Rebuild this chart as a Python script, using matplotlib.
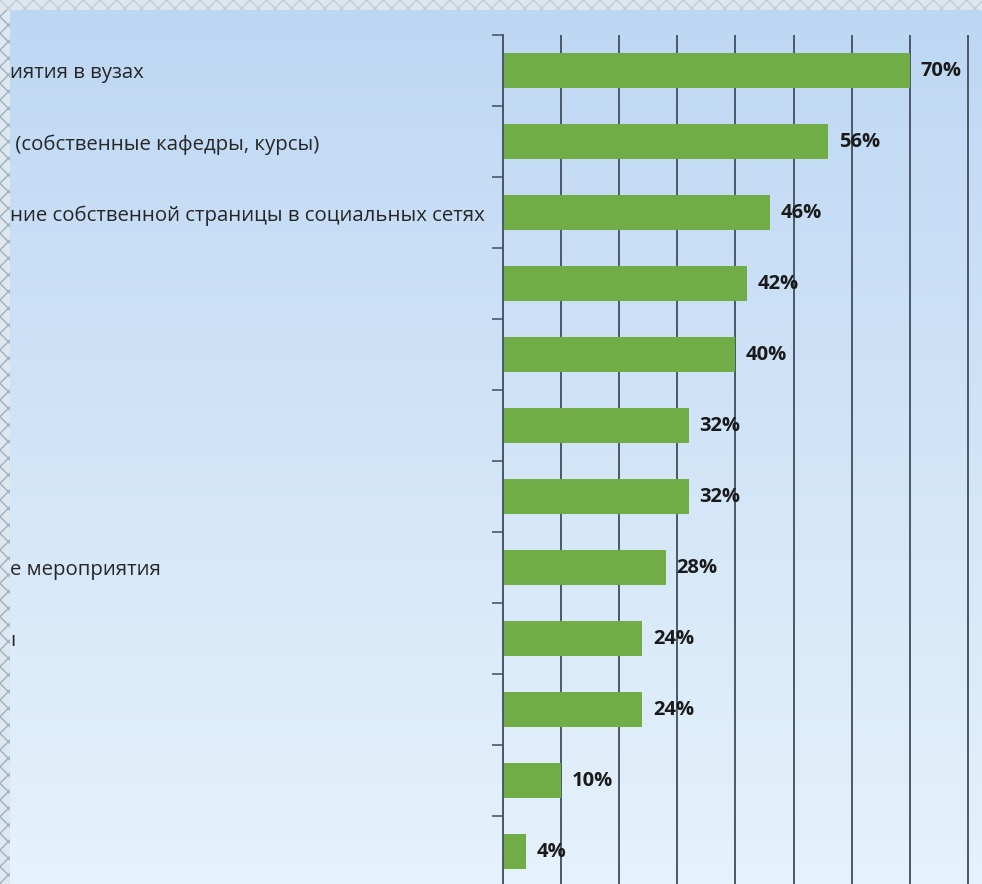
# -*- coding:utf-8 -*-
import numpy as np
import matplotlib
matplotlib.use('Agg')
import matplotlib.pyplot as plt
from matplotlib.patches import Rectangle
from matplotlib.transforms import blended_transform_factory

# видимые части подписей категорий (слева обрезаны)
labels = ['иятия в вузах',
          ' (собственные кафедры, курсы)',
          'ние собственной страницы в социальных сетях',
          '', '', '', '',
          'е мероприятия',
          'ı',
          '', '', '']
values = [70, 56, 46, 42, 40, 32, 32, 28, 24, 24, 10, 4]
value_labels = ['70%', '56%', '46%', '42%', '40%', '32%', '32%', '28%', '24%', '24%', '10%', '4%']

plt.rcParams['font.family'] = ['Open Sans', 'DejaVu Sans']

W, H = 982, 884
fig = plt.figure(figsize=(W / 100, H / 100), dpi=100)

# фон - вертикальный градиент
bg = fig.add_axes([0, 0, 1, 1], zorder=-10)
top = np.array([189, 215, 243]) / 255
bot = np.array([230, 242, 252]) / 255
t = np.linspace(0, 1, 256)[:, None]
grad = top[None, :] * (1 - t) + bot[None, :] * t
bg.imshow(grad[:, None, :], aspect='auto', extent=[0, 1, 0, 1])
bg.axis('off')

# основная диаграмма
left, right = 503, 1026
ytop, ybot = 35, 887
ax = fig.add_axes([left / W, 1 - ybot / H, (right - left) / W, (ybot - ytop) / H])
ax.patch.set_alpha(0)

n = len(values)
y = np.arange(n)
ax.barh(y, values, height=0.5, color='#70ad47', zorder=2)
ax.set_ylim(n - 0.5, -0.5)
ax.set_xlim(0, 90)

ax.set_xticks(np.arange(0, 91, 10))
ax.xaxis.grid(True, color='#4b5868', linewidth=1.4, zorder=1)
ax.set_xticklabels([])
ax.tick_params(axis='x', length=0)

ax.set_yticks(np.arange(-0.5, n, 1))
ax.set_yticklabels([])
ax.tick_params(axis='y', length=8, width=1.2, color='#4b5868', direction='out')

for s in ['top', 'right', 'bottom']:
    ax.spines[s].set_visible(False)
ax.spines['left'].set_color('#4b5868')
ax.spines['left'].set_linewidth(1.4)

for i, v in enumerate(values):
    ax.text(v + 1.8, i, value_labels[i], va='center', ha='left',
            fontsize=14.5, fontweight='bold', color='#1a1a1a', zorder=3)

# подписи категорий, обрезанные слева
tr = blended_transform_factory(fig.transFigure, ax.transData)
for i, lab in enumerate(labels):
    if lab:
        ax.text(10 / W, i + 0.04, lab, transform=tr, ha='left', va='center',
                fontsize=14.7, color='#262626', clip_on=False)

# декоративные полосы с узором слева и сверху
strip = '#dfe7ee'
fig.patches.append(Rectangle((0, 0), 10 / W, 1, transform=fig.transFigure,
                             facecolor=strip, edgecolor='#9fb0c0', hatch='xx',
                             linewidth=0, zorder=20))
fig.patches.append(Rectangle((0, 1 - 10 / H), 1, 10 / H, transform=fig.transFigure,
                             facecolor=strip, edgecolor='#c3ccd5', hatch='xx',
                             linewidth=0, zorder=20))

fig.savefig('out.png', dpi=100)
